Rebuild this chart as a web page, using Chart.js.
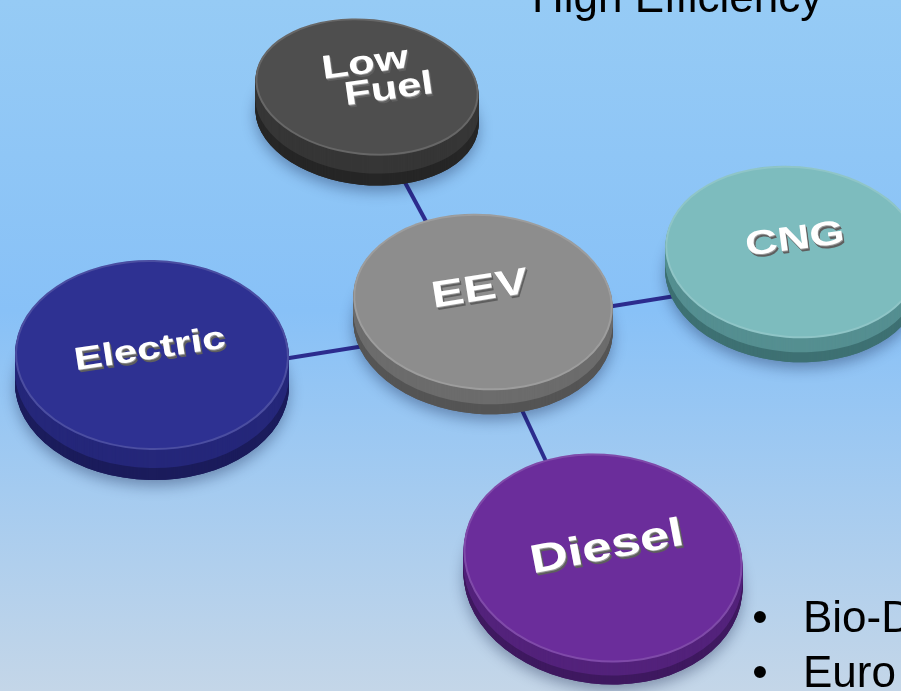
<!DOCTYPE html>
<html lang="en">
<head>
  <meta charset="UTF-8">
  <title>EEV</title>
  <style>
    html, body {
      margin: 0;
      padding: 0;
      overflow: hidden;
      background: #8ec5f5;
    }
    #diagram {
      display: block;
    }
  </style>
</head>
<body>
  <canvas id="diagram" width="901" height="691"></canvas>

  <script src="https://cdn.jsdelivr.net/npm/chart.js"></script>
  <script>
    // nodes of the diagram (x/y in slide units, y grows downward)
    const nodeNames = ['Low Fuel', 'CNG', 'EEV', 'Electric', 'Diesel'];
    const nodeX = [367, 793, 483, 152, 603];
    const nodeY = [87, 252, 302, 355, 558];
    // links from the centre node
    const linkFrom = ['EEV', 'EEV', 'EEV', 'EEV'];
    const linkTo = ['Low Fuel', 'CNG', 'Electric', 'Diesel'];
    // slide texts
    const headingText = 'High Efficiency';
    const bulletItems = ['Bio-Diesel', 'Euro 5'];

    // looks of each disc
    const discStyles = {
      'Low Fuel': { top: '#4e4e4e', side: '#363636', sideDark: '#262626', a: 112, b: 68, rot: 0.10, t: 30, textRot: -0.14, font: 33, dx: 10, dy: -10, lineShift: 20 },
      'CNG':      { top: '#7dbcbe', side: '#558f91', sideDark: '#3e7173', a: 128, b: 86, rot: 0.08, t: 24, textRot: -0.13, font: 34, dx: 2, dy: -12, lineShift: 0 },
      'EEV':      { top: '#8d8d8d', side: '#6c6c6c', sideDark: '#555555', a: 130, b: 88, rot: 0.08, t: 24, textRot: -0.16, font: 37, dx: -3, dy: -12, lineShift: 0 },
      'Electric': { top: '#2e3192', side: '#25277a', sideDark: '#1b1c5c', a: 137, b: 95, rot: 0.02, t: 30, textRot: -0.15, font: 32, dx: -2, dy: -5, lineShift: 0 },
      'Diesel':   { top: '#6b2d9b', side: '#53227b', sideDark: '#3f1960', a: 140, b: 104, rot: 0.12, t: 22, textRot: -0.19, font: 40, dx: 4, dy: -10, lineShift: 0 }
    };
    const linkColor = '#2c2c8e';
    const anchorDrop = 25;

    const idx = name => nodeNames.indexOf(name);

    const ellipsePath = (ctx, cx, cy, a, b, rot) => {
      ctx.beginPath();
      ctx.ellipse(cx, cy, a, b, rot, 0, Math.PI * 2);
    };

    const drawDisc = (ctx, cx, cy, s) => {
      // soft drop shadow under the disc
      ctx.save();
      ctx.shadowColor = 'rgba(10, 20, 60, 0.35)';
      ctx.shadowBlur = 14;
      ctx.shadowOffsetY = 6;
      ellipsePath(ctx, cx, cy + s.t, s.a, s.b, s.rot);
      ctx.fillStyle = s.sideDark;
      ctx.fill();
      ctx.restore();

      // side wall
      for (let k = s.t; k > 0; k--) {
        ellipsePath(ctx, cx, cy + k, s.a, s.b, s.rot);
        ctx.fillStyle = k > s.t * 0.6 ? s.sideDark : s.side;
        ctx.fill();
      }

      // top face
      ellipsePath(ctx, cx, cy, s.a, s.b, s.rot);
      ctx.fillStyle = s.top;
      ctx.fill();
      // light rim
      ctx.save();
      ellipsePath(ctx, cx, cy, s.a - 1, s.b - 1, s.rot);
      ctx.strokeStyle = 'rgba(255, 255, 255, 0.14)';
      ctx.lineWidth = 2;
      ctx.stroke();
      ctx.restore();
    };

    const drawLabel = (ctx, cx, cy, name, s) => {
      const lines = name.split(' ');
      ctx.save();
      ctx.translate(cx + s.dx, cy + s.dy);
      ctx.rotate(s.textRot);
      ctx.scale(1.32, 1);
      ctx.font = `bold ${s.font}px "Liberation Sans", Arial, sans-serif`;
      ctx.textAlign = 'center';
      ctx.textBaseline = 'middle';
      lines.forEach((ln, j) => {
        const off = j - (lines.length - 1) / 2;
        const y = off * s.font * 0.88;
        const x = off * s.lineShift / 1.32;
        for (let d = 3; d >= 1; d--) {
          ctx.fillStyle = d > 1 ? '#5f5f5f' : '#9a9a9a';
          ctx.fillText(ln, x + d * 0.4, y + d);
        }
        ctx.fillStyle = '#ffffff';
        ctx.fillText(ln, x, y);
      });
      ctx.restore();
    };

    const diagramPlugin = {
      id: 'diagram',
      beforeDraw(chart) {
        const { ctx, width, height } = chart;
        const g = ctx.createLinearGradient(0, 0, 0, height);
        g.addColorStop(0, '#96cbf5');
        g.addColorStop(0.45, '#88c1f7');
        g.addColorStop(1, '#c4d6e8');
        ctx.save();
        ctx.fillStyle = g;
        ctx.fillRect(0, 0, width, height);
        ctx.restore();
      },
      afterDatasetsDraw(chart) {
        const { ctx } = chart;
        const xs = chart.scales.x;
        const ys = chart.scales.y;
        const px = i => xs.getPixelForValue(nodeX[i]);
        const py = i => ys.getPixelForValue(nodeY[i]);

        ctx.save();
        // connectors behind the discs
        ctx.strokeStyle = linkColor;
        ctx.lineWidth = 4;
        linkFrom.forEach((f, k) => {
          const a = idx(f), b = idx(linkTo[k]);
          ctx.beginPath();
          ctx.moveTo(px(a), py(a) + anchorDrop);
          ctx.lineTo(px(b), py(b) + anchorDrop);
          ctx.stroke();
        });

        // discs, back to front
        const order = nodeNames.map((n, i) => i).sort((a, b) => nodeY[a] - nodeY[b]);
        order.forEach(i => {
          const s = discStyles[nodeNames[i]];
          drawDisc(ctx, px(i), py(i), s);
          drawLabel(ctx, px(i), py(i), nodeNames[i], s);
        });

        // slide text
        ctx.fillStyle = '#000000';
        ctx.font = '44px "Liberation Sans", Arial, sans-serif';
        ctx.textBaseline = 'alphabetic';
        ctx.textAlign = 'left';
        ctx.fillText(headingText, 532, 12);
        bulletItems.forEach((item, k) => {
          const base = 632 + k * 55;
          ctx.textAlign = 'center';
          ctx.fillText('\u2022', 760, base);
          ctx.textAlign = 'left';
          ctx.fillText(item, 803, base);
        });
        ctx.restore();
      }
    };

    document.addEventListener('DOMContentLoaded', () => {
      const ctx = document.getElementById('diagram').getContext('2d');
      new Chart(ctx, {
        type: 'scatter',
        data: {
          datasets: [{
            label: 'Nodes',
            data: nodeNames.map((n, i) => ({ x: nodeX[i], y: nodeY[i] })),
            pointRadius: 0
          }]
        },
        options: {
          responsive: false,
          animation: false,
          events: [],
          layout: { padding: 0 },
          scales: {
            x: { type: 'linear', min: 0, max: 901, display: false },
            y: { type: 'linear', min: 0, max: 691, reverse: true, display: false }
          },
          plugins: {
            legend: { display: false },
            tooltip: { enabled: false }
          }
        },
        plugins: [diagramPlugin]
      });
    });
  </script>
</body>
</html>
